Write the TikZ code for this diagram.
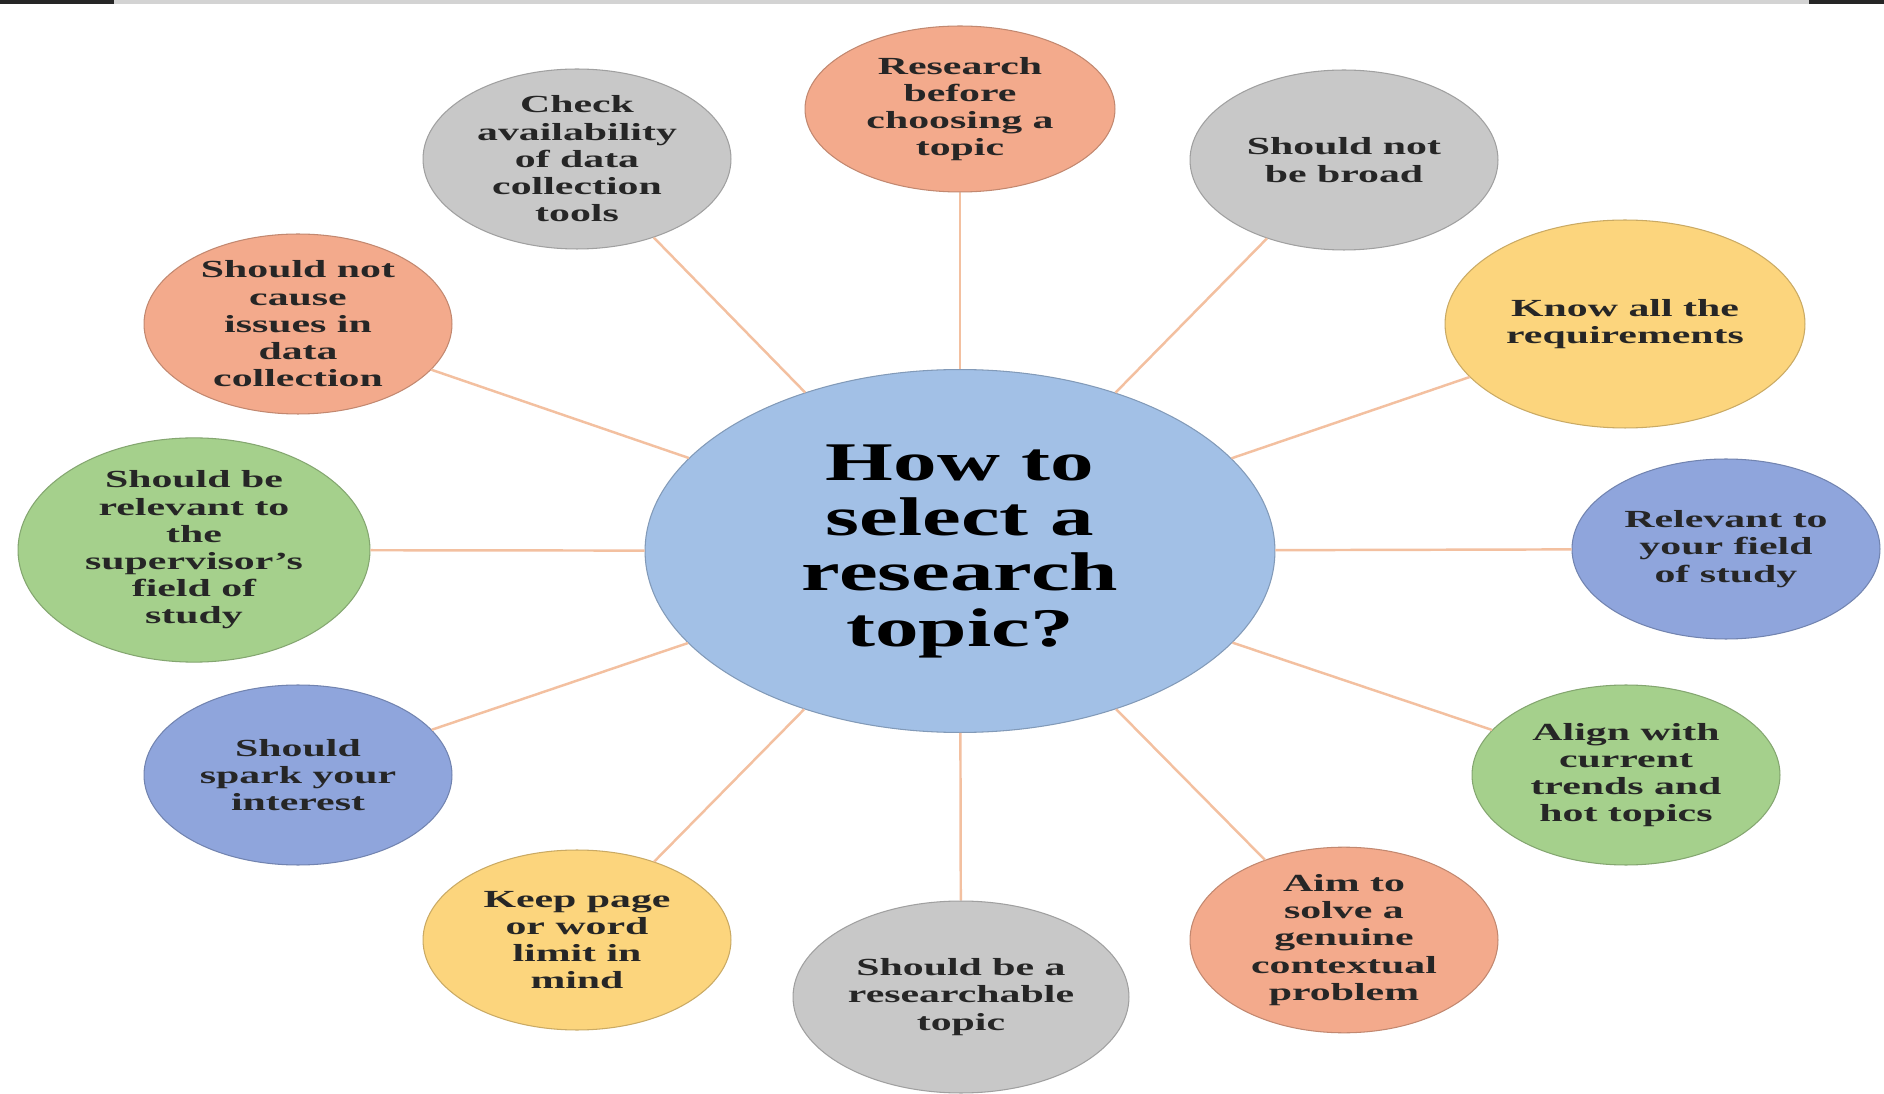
\documentclass[tikz,border=0pt]{standalone}
\usepackage{fontspec}
\newfontfamily\satfont{Liberation Serif}[FakeStretch=1.7]
\newfontfamily\hubfont{Liberation Serif}[FakeStretch=1.6]
\usetikzlibrary{shapes.geometric}
\definecolor{salmon}{HTML}{F3AA8C}
\definecolor{greyish}{HTML}{C8C8C8}
\definecolor{sand}{HTML}{FCD57D}
\definecolor{lilac}{HTML}{8FA5DC}
\definecolor{leaf}{HTML}{A5D08C}
\definecolor{sky}{HTML}{A2C0E6}
\definecolor{spokecol}{HTML}{F3C0A0}
\begin{document}
\begin{tikzpicture}[x=0.02cm,y=-0.02cm]
        \tikzset{
            topic/.style={ellipse,fill=#1,draw=#1!80!black,line width=0.6pt,inner sep=0pt,
              minimum width=6.16cm,minimum height=3.6cm,align=center,text=black!85,
              font={\satfont\bfseries\fontsize{14}{15.5}\selectfont}},
            hub/.style={ellipse,fill=sky,draw=sky!80!black,line width=0.6pt,inner sep=0pt,
              minimum width=12.6cm,minimum height=7.26cm,align=center,text=black,
              font={\hubfont\bfseries\fontsize{31}{31.5}\selectfont}},
            spoke/.style={draw=spokecol,line width=1.4pt},
        }
        \fill[white] (0,0) rectangle (1884,1094);
        \useasboundingbox (0,0) rectangle (1884,1094);
        \fill[greyish!80] (0,0) rectangle (1884,4);
        \fill[black!85] (0,0) rectangle (114,4);
        \fill[black!85] (1809,0) rectangle (1884,4);

        \node[hub] (q) at (960,551) {How to\\select a\\research\\topic?};

        \node[topic=salmon,minimum width=6.2cm,minimum height=3.32cm] (t1) at (960,109) {Research\\before\\choosing a\\topic};
        \node[topic=greyish] (t2) at (1344,160) {Should not\\be broad};
        \node[topic=sand,minimum width=7.2cm,minimum height=4.16cm] (t3) at (1625,324) {Know all the\\requirements};
        \node[topic=lilac] (t4) at (1726,549) {Relevant to\\your field\\of study};
        \node[topic=leaf] (t5) at (1626,775) {Align with\\current\\trends and\\hot topics};
        \node[topic=salmon] (t6) at (1344,940) {Aim to\\solve a\\genuine\\contextual\\problem};
        \node[topic=greyish,minimum width=6.72cm,minimum height=3.84cm] (t7) at (961,997) {Should be a\\researchable\\topic};
        \node[topic=sand] (t8) at (577,940) {Keep page\\or word\\limit in\\mind};
        \node[topic=lilac] (t9) at (298,775) {Should\\spark your\\interest};
        \node[topic=leaf,minimum width=7.04cm,minimum height=3.84cm] (t10) at (194,550) {Should be\\relevant to\\the\\supervisor’s\\field of\\study};
        \node[topic=salmon] (t11) at (298,324) {Should not\\cause\\issues in\\data\\collection};
        \node[topic=greyish] (t12) at (577,159) {Check\\availability\\of data\\collection\\tools};

        \draw[spoke] (q) -- (t1);
        \draw[spoke] (q) -- (t2);
        \draw[spoke] (q) -- (t3);
        \draw[spoke] (q) -- (t4);
        \draw[spoke] (q) -- (t5);
        \draw[spoke] (q) -- (t6);
        \draw[spoke] (q) -- (t7);
        \draw[spoke] (q) -- (t8);
        \draw[spoke] (q) -- (t9);
        \draw[spoke] (q) -- (t10);
        \draw[spoke] (q) -- (t11);
        \draw[spoke] (q) -- (t12);
    \end{tikzpicture}
\end{document}
